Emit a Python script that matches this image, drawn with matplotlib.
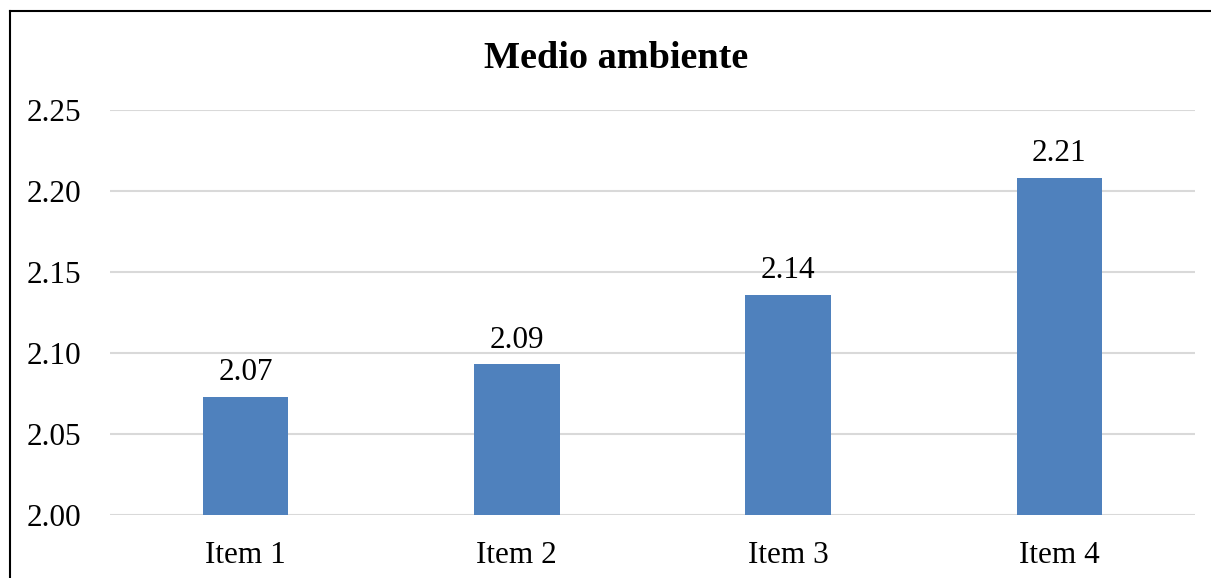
import numpy as np
import matplotlib.pyplot as plt
from matplotlib.lines import Line2D

items = ["Item 1", "Item 2", "Item 3", "Item 4"]
valores = [2.073, 2.093, 2.136, 2.208]
yticks = [2.00, 2.05, 2.10, 2.15, 2.20, 2.25]

plt.rcParams['font.family'] = ['Liberation Serif', 'DejaVu Serif']

fig = plt.figure(figsize=(12.11, 5.78), dpi=100)
ax = fig.add_axes([0.0908, 0.109, 0.896, 0.7006])

x = np.arange(len(items))
bars = ax.bar(x, valores, width=0.315, color='#4F81BD', zorder=3)
for b, v in zip(bars, valores):
    ax.text(b.get_x() + b.get_width() / 2, v + 0.006, f"{v:.2f}",
            ha='center', va='bottom', fontsize=22.5)

ax.set_xlim(-0.5, len(items) - 0.5)
ax.set_ylim(2.00, 2.25)
ax.set_yticks(yticks)
ax.set_yticklabels([f"{t:.2f}" for t in yticks], fontsize=22.5)
ax.set_xticks(x)
ax.set_xticklabels(items, fontsize=22.5)
ax.tick_params(length=0)
ax.tick_params(axis='y', pad=21)
ax.tick_params(axis='x', pad=19)
ax.grid(axis='y', color='#d9d9d9', linewidth=1.5, zorder=0)
for s in ax.spines.values():
    s.set_visible(False)

fig.text(0.509, 0.898, "Medio ambiente", ha='center', va='center',
         fontsize=27.5, fontweight='bold')

# marco del gráfico
fig.add_artist(Line2D([10 / 1211, 10 / 1211], [0, 1 - 11 / 578], color='black', linewidth=1.5))
fig.add_artist(Line2D([10 / 1211, 1], [1 - 11 / 578, 1 - 11 / 578], color='black', linewidth=1.5))

fig.savefig("out.png", dpi=100, facecolor='white')
